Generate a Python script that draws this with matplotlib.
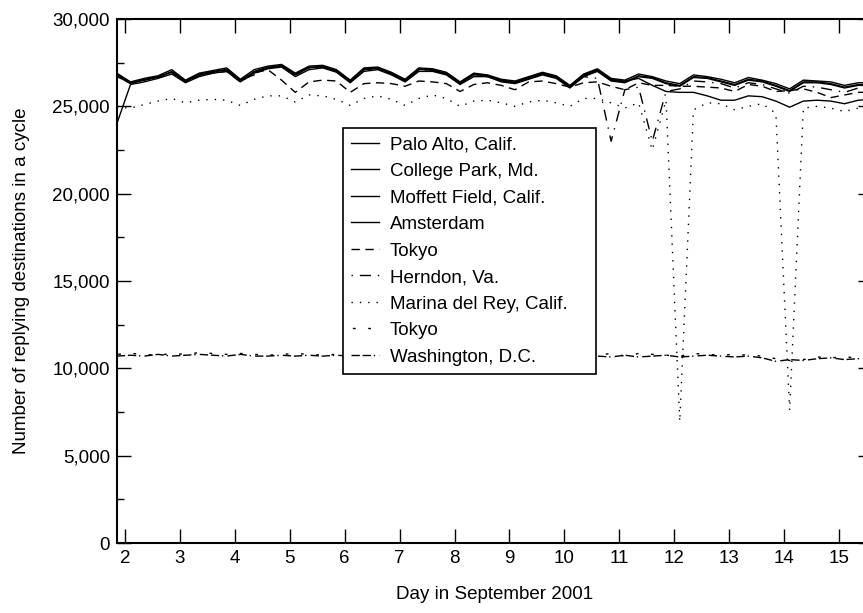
import numpy as np
import matplotlib
matplotlib.use("Agg")
import matplotlib.pyplot as plt
from matplotlib.ticker import FuncFormatter, MultipleLocator

plt.rcParams['font.family'] = ['Liberation Sans', 'DejaVu Sans']

# sample times (day of September 2001)
day = np.arange(1.85, 15.65, 0.25)

palo_alto = [26900, 26400, 26600, 26750, 27100, 26500, 26900, 27050,
             27200, 26550, 27100, 27300, 27400, 26900, 27300, 27350,
             27100, 26500, 27200, 27250, 26950, 26550, 27200, 27150,
             26950, 26400, 26900, 26800, 26550, 26450, 26700, 26950,
             26750, 26200, 26850, 27150, 26600, 26500, 26850, 26700,
             26450, 26300, 26800, 26700, 26550, 26350, 26650, 26500,
             26300, 26000, 26500, 26450, 26400, 26200, 26350, 26350]
college_park = [26800, 26300, 26500, 26700, 26950, 26400, 26800, 26950,
                27100, 26450, 27000, 27250, 27300, 26800, 27200, 27300,
                27000, 26400, 27100, 27200, 26850, 26450, 27100, 27100,
                26850, 26300, 26800, 26750, 26450, 26350, 26600, 26850,
                26650, 26100, 26750, 27050, 26500, 26400, 26750, 26650,
                26350, 26200, 26700, 26650, 26450, 26250, 26550, 26450,
                26200, 25900, 26400, 26400, 26300, 26100, 26250, 26250]
moffett_field = [24000, 26250, 26400, 26600, 26850, 26350, 26700, 26900,
                 27000, 26400, 26900, 27150, 27250, 26700, 27100, 27200,
                 26950, 26350, 27000, 27100, 26800, 26400, 27000, 27000,
                 26800, 26250, 26700, 26700, 26400, 26300, 26550, 26800,
                 26600, 26050, 26700, 27000, 26450, 26350, 26700, 26600,
                 26300, 26150, 26650, 26600, 26400, 26200, 26500, 26400,
                 26150, 25850, 26350, 26350, 26250, 26050, 26200, 26200]
amsterdam = [26850, 26350, 26550, 26650, 27000, 26450, 26850, 27000,
             27100, 26500, 26950, 27200, 27350, 26850, 27250, 27250,
             27050, 26450, 27150, 27150, 26900, 26500, 27150, 27050,
             26900, 26350, 26850, 26750, 26500, 26400, 26650, 26900,
             26700, 26150, 26800, 27100, 26550, 26450, 26600, 26200,
             25850, 25800, 25800, 25600, 25350, 25350, 25600, 25550,
             25300, 24950, 25300, 25350, 25300, 25150, 25350, 25400]
tokyo_a = [26700, 26350, 26500, 26650, 26950, 26400, 26750, 26900,
           27000, 26400, 26900, 27100, 26500, 25800, 26400, 26500,
           26450, 25800, 26300, 26350, 26300, 26150, 26450, 26400,
           26300, 25850, 26250, 26350, 26200, 25950, 26400, 26450,
           26300, 26100, 26350, 26400, 26150, 25950, 26350, 26200,
           26200, 26150, 26150, 26100, 26050, 25850, 26250, 26150,
           25850, 25900, 26000, 25800, 25500, 25650, 25800, 25800]
herndon = [26750, 26300, 26550, 26700, 27000, 26450, 26800, 26950,
           27100, 26500, 26800, 27200, 27300, 26800, 27200, 27250,
           27000, 26400, 27100, 27150, 26850, 26450, 27050, 27050,
           26850, 26300, 26800, 26700, 26450, 26350, 26600, 26850,
           26650, 26100, 26700, 26600, 23000, 25950, 26100, 23000,
           25850, 26000, 26450, 26400, 26300, 26050, 26350, 26250,
           26000, 25750, 26150, 26100, 25950, 25800, 26050, 26000]
marina_del_rey = [24950, 24900, 25100, 25300, 25450, 25200, 25350, 25400,
                  25350, 25050, 25400, 25600, 25600, 25250, 25650, 25600,
                  25400, 25050, 25450, 25600, 25400, 25050, 25450, 25650,
                  25450, 25000, 25300, 25350, 25200, 25000, 25250, 25350,
                  25200, 25000, 25450, 25450, 25200, 24900, 25200, 22500,
                  25350, 6950, 24800, 25200, 25150, 24800, 25000, 25150,
                  24600, 7600, 24900, 25000, 24900, 24700, 24900, 24900]
tokyo_b = [10800, 10850, 10800, 10750, 10850, 10800, 10900, 10850,
           10800, 10850, 10800, 10750, 10800, 10850, 10800, 10750,
           10800, 10850, 10800, 10750, 10800, 10850, 10800, 10800,
           10750, 10800, 10850, 10800, 10800, 10750, 10850, 10800,
           10750, 10850, 10800, 10750, 10850, 10700, 10850, 10800,
           10750, 10700, 10850, 10800, 10750, 10800, 10750, 10700,
           10550, 10450, 10500, 10650, 10600, 10650, 10600, 10650]
washington = [10700, 10750, 10700, 10800, 10700, 10750, 10800, 10750,
              10700, 10800, 10700, 10700, 10750, 10700, 10750, 10700,
              10750, 10700, 10750, 10700, 10750, 10700, 10750, 10700,
              10700, 10750, 10700, 10750, 10700, 10750, 10700, 10750,
              10700, 10700, 10900, 10700, 10650, 10750, 10650, 10700,
              10750, 10650, 10700, 10750, 10700, 10650, 10700, 10600,
              10400, 10500, 10450, 10550, 10600, 10500, 10550, 10600]

series = [
    ("Palo Alto, Calif.", palo_alto, '-'),
    ("College Park, Md.", college_park, '-'),
    ("Moffett Field, Calif.", moffett_field, '-'),
    ("Amsterdam", amsterdam, '-'),
    ("Tokyo", tokyo_a, (0, (6, 4))),
    ("Herndon, Va.", herndon, (0, (1, 5, 8, 5))),
    ("Marina del Rey, Calif.", marina_del_rey, (0, (1, 5))),
    ("Tokyo", tokyo_b, (10, (2, 9))),
    ("Washington, D.C.", washington, (0, (6, 2, 6, 2, 1, 3))),
]

fig = plt.figure(figsize=(8.63, 6.13), dpi=100)
ax = fig.add_axes([117 / 863, 70 / 613, 755 / 863, 524 / 613])

for name, vals, ls in series:
    ax.plot(day, vals, color='black', linewidth=1.0, linestyle=ls, label=name)

ax.set_xlim(1.854, 15.6)
ax.set_ylim(0, 30000)
ax.set_xticks(range(2, 16))
ax.yaxis.set_major_locator(MultipleLocator(5000))
ax.yaxis.set_minor_locator(MultipleLocator(2500))
ax.yaxis.set_major_formatter(FuncFormatter(lambda v, p: f"{v:,.0f}"))

ax.tick_params(which='both', direction='in', top=True, right=True,
               labelsize=13.5, width=1, color='black')
ax.tick_params(which='major', length=10, pad=5)
ax.tick_params(which='minor', length=5)
for s in ax.spines.values():
    s.set_linewidth(1.5)

ax.set_xlabel("Day in September 2001", fontsize=13.5, labelpad=14)
ax.set_ylabel("Number of replying destinations in a cycle", fontsize=13.5, labelpad=16)

# legend box spans roughly 0.30-0.64 of the axes width
leg = ax.legend(loc='upper left', bbox_to_anchor=(0.299, 0.326, 0.336, 0.466),
                mode='expand', borderaxespad=0,
                fontsize=13.5, frameon=True, fancybox=False, framealpha=1,
                edgecolor='black', handlelength=1.5, handletextpad=0.55,
                labelspacing=0.5, borderpad=0.45)
leg.get_frame().set_linewidth(1.2)

fig.savefig("out.png", dpi=100)
